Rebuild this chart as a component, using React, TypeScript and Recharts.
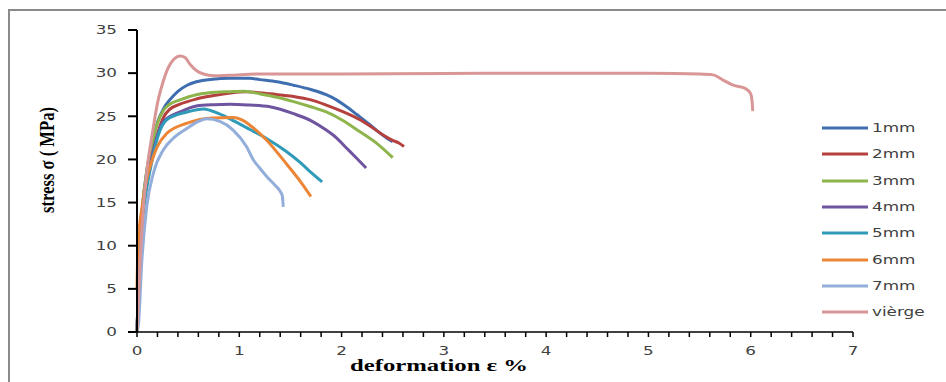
import { Legend, Line, LineChart, XAxis, YAxis } from 'recharts'

type Pt = [number, number]

// strain (%) , stress (MPa)
const mm1: Pt[] = [
  [0, 0], [0.02, 8], [0.05, 14], [0.1, 19], [0.15, 22], [0.2, 24.3], [0.26, 25.9], [0.32, 26.9],
  [0.4, 27.9], [0.49, 28.6], [0.58, 29.0], [0.74, 29.3], [0.9, 29.4], [1.1, 29.4], [1.2, 29.25],
  [1.37, 29.0], [1.53, 28.6], [1.7, 28.1], [1.85, 27.5], [1.95, 26.9], [2.05, 26.1], [2.15, 25.2],
  [2.28, 24.0], [2.37, 23.1], [2.45, 22.4], [2.5, 22.05],
]
const mm2: Pt[] = [
  [0, 0], [0.02, 7], [0.05, 13], [0.1, 17.5], [0.15, 20.5], [0.2, 22.9], [0.26, 24.9], [0.32, 25.8],
  [0.42, 26.4], [0.58, 27.0], [0.75, 27.4], [0.91, 27.7], [1.05, 27.85], [1.15, 27.8], [1.3, 27.6],
  [1.53, 27.3], [1.7, 26.9], [1.85, 26.3], [2.0, 25.6], [2.18, 24.6], [2.3, 23.7], [2.41, 22.8],
  [2.5, 22.2], [2.56, 21.9], [2.61, 21.5],
]
const mm3: Pt[] = [
  [0, 0], [0.02, 8], [0.05, 14], [0.1, 19], [0.15, 22], [0.2, 24.2], [0.26, 25.7], [0.32, 26.4],
  [0.42, 26.9], [0.58, 27.5], [0.69, 27.7], [0.91, 27.85], [1.05, 27.9], [1.2, 27.6], [1.37, 27.2],
  [1.53, 26.7], [1.7, 26.1], [1.85, 25.5], [2.0, 24.6], [2.18, 23.2], [2.35, 21.8], [2.5, 20.2],
]
const mm4: Pt[] = [
  [0, 0], [0.02, 7], [0.05, 13], [0.1, 17.5], [0.15, 20.5], [0.2, 22.8], [0.26, 24.4], [0.42, 25.5],
  [0.58, 26.2], [0.75, 26.35], [0.91, 26.4], [1.1, 26.3], [1.3, 26.1], [1.53, 25.3], [1.7, 24.5],
  [1.85, 23.4], [1.95, 22.5], [2.05, 21.3], [2.15, 20.1], [2.24, 19.0],
]
const mm5: Pt[] = [
  [0, 0], [0.02, 7], [0.05, 12.5], [0.1, 17], [0.15, 20], [0.2, 22.5], [0.29, 24.6], [0.49, 25.5],
  [0.65, 25.85], [0.8, 25.3], [0.94, 24.5], [1.1, 23.5], [1.27, 22.4], [1.45, 21.0], [1.6, 19.6],
  [1.7, 18.5], [1.81, 17.4],
]
const mm6: Pt[] = [
  [0, 5], [0.01, 10], [0.05, 14.5], [0.1, 18], [0.15, 20], [0.2, 21.5], [0.29, 23.0], [0.49, 24.2],
  [0.74, 24.8], [0.94, 24.85], [1.02, 24.6], [1.1, 24.0], [1.27, 22.2], [1.46, 19.5], [1.6, 17.4],
  [1.7, 15.7],
]
const mm7: Pt[] = [
  [0, 0], [0.015, 1], [0.046, 8], [0.095, 14.5], [0.16, 18.4], [0.257, 21.1], [0.35, 22.4],
  [0.49, 23.6], [0.6, 24.4], [0.68, 24.7], [0.81, 24.4], [0.94, 23.4], [1.07, 21.5], [1.14, 19.9],
  [1.2, 19.0], [1.27, 18.0], [1.35, 17.0], [1.4, 16.3], [1.42, 15.8], [1.43, 14.5],
]
const vierge: Pt[] = [
  [0, 0], [0.03, 8], [0.06, 14], [0.1, 19], [0.15, 23], [0.2, 26.5], [0.25, 28.8], [0.3, 30.5],
  [0.36, 31.6], [0.42, 32], [0.47, 31.8], [0.52, 31], [0.58, 30.3], [0.65, 29.9], [0.75, 29.7],
  [0.9, 29.75], [1.2, 29.9], [2, 29.9], [3, 29.95], [4, 30], [5, 30], [5.5, 29.9], [5.63, 29.8],
  [5.73, 29.2], [5.83, 28.6], [5.95, 28.2], [6.0, 27.6], [6.015, 26.5], [6.02, 25.6],
]

const names = ['1mm', '2mm', '3mm', '4mm', '5mm', '6mm', '7mm', 'vièrge']
const colors = ['#3F6EB0', '#B5403D', '#8EB44C', '#6F54A0', '#2F9BB8', '#EC8535', '#93AEDA', '#D99696']
const curves = [mm1, mm2, mm3, mm4, mm5, mm6, mm7, vierge]

const xTicks = [
  0, 0.2, 0.4, 0.6, 0.8, 1, 1.2, 1.4, 1.6, 1.8, 2, 2.2, 2.4, 2.6, 2.8, 3, 3.2, 3.4, 3.6, 3.8,
  4, 4.2, 4.4, 4.6, 4.8, 5, 5.2, 5.4, 5.6, 5.8, 6, 6.2, 6.4, 6.6, 6.8, 7,
]
const yTicks = [0, 5, 10, 15, 20, 25, 30, 35]

const tickFont = { fontFamily: 'DejaVu Sans', fontSize: 12, fill: '#404040' }

function XTick({ x, y, payload }: any) {
  const v = payload.value
  if (!Number.isInteger(v)) return null
  return (
    <g transform={`translate(${x},${y})`}>
      <text textAnchor="middle" dy="0.71em" transform="scale(1.4,1)" {...tickFont}>
        {v}
      </text>
    </g>
  )
}

function YTick({ x, y, payload }: any) {
  return (
    <g transform={`translate(${x},${y})`}>
      <text textAnchor="end" dy="0.36em" transform="scale(1.4,1)" {...tickFont}>
        {payload.value}
      </text>
    </g>
  )
}

function LegendBox() {
  return (
    <div>
      {names.map((n, i) => (
        <div key={n} style={{ height: 26.3, display: 'flex', alignItems: 'center' }}>
          <svg width={50} height={6} style={{ display: 'block' }}>
            <line x1={2} y1={3} x2={48} y2={3} stroke={colors[i]} strokeWidth={3} />
          </svg>
          <span
            style={{
              fontFamily: 'DejaVu Sans',
              fontSize: 12,
              color: '#404040',
              display: 'inline-block',
              transform: 'scaleX(1.4)',
              transformOrigin: 'left center',
              marginLeft: 2,
              lineHeight: '14px',
            }}
          >
            {n}
          </span>
        </div>
      ))}
    </div>
  )
}

export default function App() {
  return (
    <div style={{ position: 'absolute', left: 0, top: 0, width: 946, height: 382, overflow: 'hidden', background: '#fff' }}>
      <div
        style={{
          position: 'absolute',
          left: 8,
          top: 9,
          width: 960,
          height: 420,
          border: '2px solid #8a8a8a',
          boxSizing: 'border-box',
        }}
      />
      <LineChart
        width={946}
        height={382}
        margin={{ top: 30, right: 93, bottom: 20, left: 77 }}
        style={{ position: 'absolute', left: 0, top: 0 }}
      >
        <XAxis
          type="number"
          dataKey="x"
          domain={[0, 7]}
          ticks={xTicks}
          interval={0}
          height={30}
          tickSize={5}
          tickMargin={9}
          stroke="#000"
          strokeWidth={1.5}
          tick={<XTick />}
          label={{
            content: () => (
              <text
                x={439}
                y={371}
                textAnchor="middle"
                fontFamily="Liberation Serif"
                fontWeight="bold"
                fontSize={16}
                fill="#000"
                textLength={178}
                lengthAdjust="spacingAndGlyphs"
              >
                deformation ε  %
              </text>
            ),
          }}
        />
        <YAxis
          type="number"
          dataKey="y"
          domain={[0, 35]}
          ticks={yTicks}
          interval={0}
          width={60}
          tickSize={9}
          tickMargin={11}
          stroke="#000"
          strokeWidth={2}
          tick={<YTick />}
          label={{
            content: () => (
              <text
                transform="translate(54,160) rotate(-90) scale(1,1.35)"
                textAnchor="middle"
                fontFamily="Liberation Serif"
                fontWeight="bold"
                fontSize={16}
                fill="#000"
                textLength={106}
                lengthAdjust="spacingAndGlyphs"
              >
                stress σ ( MPa)
              </text>
            ),
          }}
        />
        <Legend
          layout="vertical"
          align="center"
          verticalAlign="middle"
          wrapperStyle={{ left: 820, top: 115, width: 120 }}
          content={() => <LegendBox />}
        />
        {curves.map((c, i) => (
          <Line
            key={names[i]}
            name={names[i]}
            data={c.map(([x, y]) => ({ x, y }))}
            dataKey="y"
            type="monotone"
            stroke={colors[i]}
            strokeWidth={3}
            dot={false}
            activeDot={false}
            isAnimationActive={false}
          />
        ))}
      </LineChart>
    </div>
  )
}
